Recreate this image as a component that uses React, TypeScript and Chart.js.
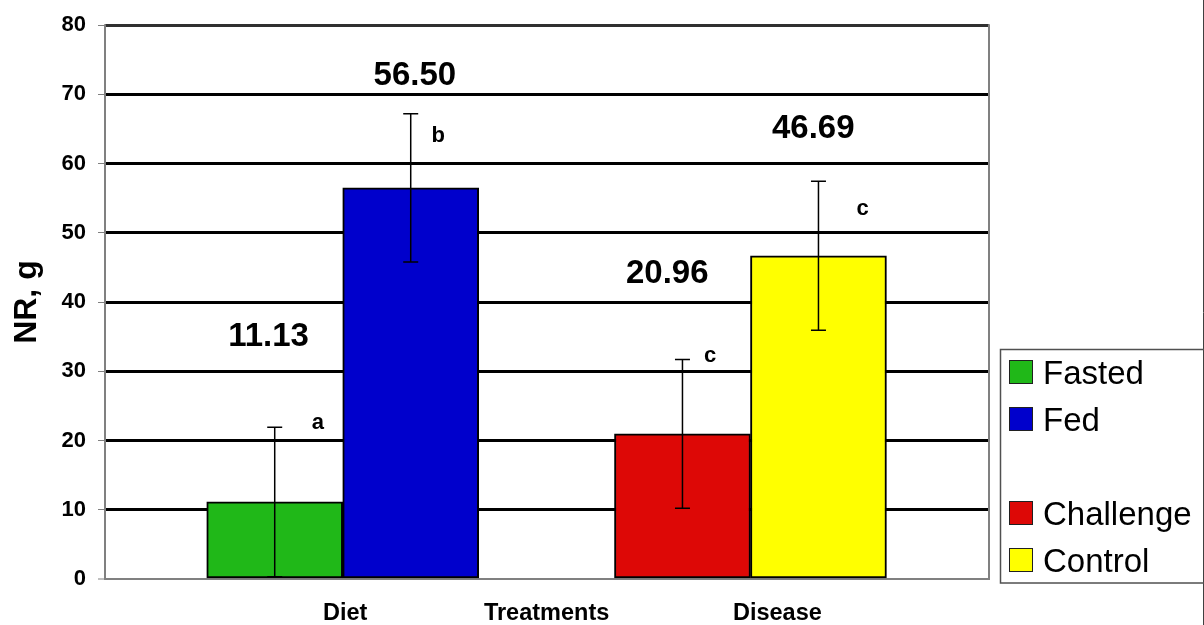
import React, { useEffect, useRef } from "react";
import { Chart, registerables } from "chart.js";

Chart.register(...registerables);

// ---------- data ----------
const categories = ["Diet", "Disease"];
const axisLabels = ["Diet", "Treatments", "Disease"];
const seriesNames = ["Fasted", "Fed", "Challenge", "Control"];
const fastedValues = [11.13, null];
const fedValues = [56.5, null];
const challengeValues = [null, 20.96];
const controlValues = [null, 46.69];
const fastedErrors = [10.8, null];
const fedErrors = [10.7, null];
const challengeErrors = [null, 10.75];
const controlErrors = [null, 10.75];
const significanceLetters = ["a", "b", "c", "c"];
const legendSlots = ["Fasted", "Fed", "", "Challenge", "Control"];
const yTickValues = [0, 10, 20, 30, 40, 50, 60, 70, 80];

// ---------- layout / style (not data) ----------
const FONT = "'Liberation Sans', Arial, sans-serif";
const seriesColors = ["#20B818", "#0000CC", "#DD0806", "#FFFF00"];
const xRange = [-0.583, 1.585];
const xLabelAnchors = [0.006, 0.5, 1.066];
// anchor of value labels and letters in axis units [x, y(baseline)]
const valueLabelAnchors = [
  [-0.182, 33.67],
  [0.177, 71.37],
  [0.796, 42.73],
  [1.154, 63.74],
];
const letterAnchors = [
  [-0.061, 21.68],
  [0.234, 63.07],
  [0.901, 31.41],
  [1.275, 52.62],
];

const seriesValues = [fastedValues, fedValues, challengeValues, controlValues];
const seriesErrors = [fastedErrors, fedErrors, challengeErrors, controlErrors];

const errorBarPlugin = {
  id: "errorBars",
  afterDatasetsDraw(chart: any) {
    const ctx = chart.ctx;
    const y = chart.scales.y;
    ctx.save();
    ctx.strokeStyle = "#000";
    ctx.lineWidth = 1.5;
    chart.data.datasets.forEach((ds: any, di: number) => {
      const meta = chart.getDatasetMeta(di);
      meta.data.forEach((el: any, i: number) => {
        const v = seriesValues[di][i];
        const e = ds.errors[i];
        if (v == null || e == null) return;
        const x = el.x;
        const top = y.getPixelForValue(v + e);
        const bot = y.getPixelForValue(v - e);
        ctx.beginPath();
        ctx.moveTo(x, top);
        ctx.lineTo(x, bot);
        ctx.moveTo(x - 7.5, top);
        ctx.lineTo(x + 7.5, top);
        ctx.moveTo(x - 7.5, bot);
        ctx.lineTo(x + 7.5, bot);
        ctx.stroke();
      });
    });
    ctx.restore();
  },
};

const annotationPlugin = {
  id: "annotations",
  afterDatasetsDraw(chart: any) {
    const ctx = chart.ctx;
    const xs = chart.scales.x;
    const ys = chart.scales.y;
    ctx.save();
    ctx.fillStyle = "#000";
    ctx.textAlign = "center";
    ctx.textBaseline = "alphabetic";
    seriesValues.forEach((vals, si) => {
      const v = vals.find((d) => d != null) as number;
      const [ax, ay] = valueLabelAnchors[si];
      ctx.font = `bold 33px ${FONT}`;
      ctx.fillText(v.toFixed(2), xs.getPixelForValue(ax), ys.getPixelForValue(ay));
      const [lx, ly] = letterAnchors[si];
      ctx.font = `bold 22px ${FONT}`;
      ctx.fillText(significanceLetters[si], xs.getPixelForValue(lx), ys.getPixelForValue(ly));
    });
    ctx.restore();
  },
};

const framePlugin = {
  id: "frame",
  beforeDatasetsDraw(chart: any) {
    const { ctx, chartArea } = chart;
    ctx.save();
    ctx.strokeStyle = "#808080";
    ctx.lineWidth = 2;
    ctx.beginPath();
    ctx.moveTo(chartArea.left, chartArea.top - 1);
    ctx.lineTo(chartArea.left, chartArea.bottom + 1);
    ctx.moveTo(chartArea.right, chartArea.top - 1);
    ctx.lineTo(chartArea.right, chartArea.bottom + 1);
    ctx.stroke();
    ctx.restore();
  },
  afterDraw(chart: any) {
    const { ctx, width, height } = chart;
    ctx.save();
    ctx.strokeStyle = "#404040";
    ctx.lineWidth = 1;
    ctx.beginPath();
    ctx.moveTo(width - 0.5, 0);
    ctx.lineTo(width - 0.5, height);
    ctx.stroke();
    ctx.restore();
  },
};

const legendPlugin = {
  id: "customLegend",
  afterDraw(chart: any) {
    const ctx = chart.ctx;
    ctx.save();
    ctx.strokeStyle = "#505050";
    ctx.lineWidth = 1.5;
    ctx.strokeRect(1000.5, 349.5, 240, 233.5);
    const startY = 360;
    const step = 47;
    ctx.font = `33px ${FONT}`;
    ctx.textAlign = "left";
    ctx.textBaseline = "alphabetic";
    legendSlots.forEach((name, i) => {
      if (!name) return;
      const di = chart.data.datasets.findIndex((d: any) => d.label === name);
      if (di < 0) return;
      const ds = chart.data.datasets[di];
      const top = startY + i * step;
      ctx.fillStyle = ds.backgroundColor;
      ctx.fillRect(1009, top, 24, 24);
      ctx.strokeStyle = "#202020";
      ctx.lineWidth = 1;
      ctx.strokeRect(1009.5, top + 0.5, 23, 23);
      ctx.fillStyle = "#000";
      ctx.fillText(name, 1043, top + 23.5);
    });
    ctx.restore();
  },
};

export default function App() {
  const canvasRef = useRef<HTMLCanvasElement | null>(null);

  useEffect(() => {
    document.body.style.margin = "0";
    const canvas = canvasRef.current;
    if (!canvas) return;
    const datasets = seriesNames.map((name, si) => ({
      label: name,
      data: categories.map((_, ci) => ({ x: ci, y: seriesValues[si][ci] })),
      errors: seriesErrors[si],
      backgroundColor: seriesColors[si],
      borderColor: "#000",
      borderWidth: 2,
      borderSkipped: false,
      barThickness: 136,
      skipNull: true,
    }));

    const chart = new Chart(canvas, {
      type: "bar",
      data: { datasets: datasets as any },
      options: {
        animation: false,
        responsive: true,
        maintainAspectRatio: false,
        layout: { padding: { left: 0, top: 23, right: 215, bottom: 0 } },
        plugins: {
          legend: { display: false },
          tooltip: { enabled: false },
        },
        scales: {
          x: {
            type: "linear",
            offset: false,
            min: xRange[0],
            max: xRange[1],
            grid: { display: false, drawTicks: false, offset: false },
            border: { display: false },
            afterBuildTicks: (axis: any) => {
              axis.ticks = xLabelAnchors.map((v) => ({ value: v }));
            },
            afterFit: (scale: any) => {
              scale.height = 46;
            },
            ticks: {
              autoSkip: false,
              maxRotation: 0,
              padding: 20,
              color: "#000",
              font: { family: FONT, size: 23.5, weight: "bold" },
              callback: (_v: any, i: number) => axisLabels[i],
            },
          },
          y: {
            min: 0,
            max: 80,
            afterBuildTicks: (axis: any) => {
              axis.ticks = yTickValues.map((v) => ({ value: v }));
            },
            afterFit: (scale: any) => {
              scale.width = 105;
            },
            border: { display: false },
            grid: {
              color: (c: any) => (c.tick && c.tick.value === 0 ? "#808080" : c.tick && c.tick.value === 80 ? "#303030" : "#000"),
              lineWidth: (c: any) => (c.tick && c.tick.value === 0 ? 2 : 3),
              tickColor: "#808080",
              tickWidth: 1,
              tickLength: 7,
              drawTicks: true,
            },
            ticks: {
              padding: 12,
              color: "#000",
              font: { family: FONT, size: 22, weight: "bold" },
            },
            title: {
              display: true,
              text: "NR, g",
              color: "#000",
              font: { family: FONT, size: 32, weight: "bold" },
              padding: { top: 8, bottom: 0 },
            },
          },
        },
      },
      plugins: [framePlugin, errorBarPlugin, annotationPlugin, legendPlugin],
    });
    return () => chart.destroy();
  }, []);

  return (
    <div style={{ position: "absolute", left: 0, top: 0, width: 1204, height: 625 }}>
      <canvas ref={canvasRef} />
    </div>
  );
}
